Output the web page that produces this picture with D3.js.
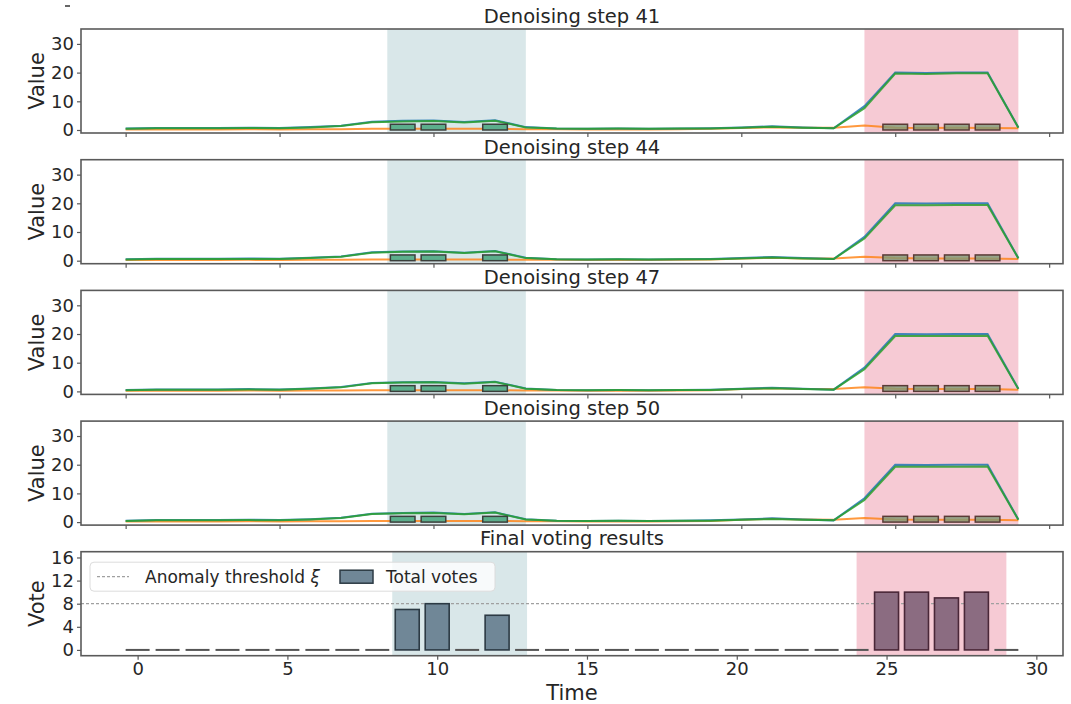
<!DOCTYPE html>
<html>
<head>
<meta charset="utf-8">
<script src="https://cdn.jsdelivr.net/npm/d3@7"></script>
<style>
  html, body { margin: 0; padding: 0; background: #ffffff; }
  svg { display: block; font-family: "DejaVu Sans", sans-serif; }
</style>
</head>
<body>
<svg id="chart" width="1071" height="704"></svg>
<script>
// ---- data ---------------------------------------------------------------
const steps = [41, 44, 47, 50];
const timeIdx = d3.range(0, 30);

// observed series (shared by every denoising step)
const observed = [0.5, 0.7, 0.7, 0.7, 0.8, 0.7, 1.0, 1.5, 2.9, 3.2, 3.3, 2.8, 3.4, 1.0, 0.5,
                  0.4, 0.5, 0.4, 0.5, 0.6, 0.9, 1.3, 0.9, 0.6, 8.3, 20.0, 19.9, 20.0, 20.0, 0.9];

// reconstruction at each denoising step
const recon41 = [0.4, 0.6, 0.6, 0.6, 0.7, 0.6, 0.9, 1.4, 2.7, 3.0, 3.1, 2.6, 3.2, 0.9, 0.5,
                 0.4, 0.5, 0.4, 0.5, 0.5, 0.8, 1.1, 0.8, 0.6, 7.6, 19.7, 19.5, 19.8, 19.8, 0.8];
const recon44 = [0.4, 0.6, 0.6, 0.6, 0.6, 0.6, 0.9, 1.4, 2.8, 3.1, 3.2, 2.7, 3.3, 0.9, 0.5,
                 0.4, 0.5, 0.4, 0.5, 0.5, 0.8, 1.1, 0.8, 0.6, 7.7, 19.3, 19.3, 19.4, 19.4, 0.8];
const recon47 = [0.4, 0.6, 0.6, 0.6, 0.7, 0.6, 0.9, 1.4, 2.8, 3.1, 3.2, 2.7, 3.3, 0.9, 0.5,
                 0.4, 0.5, 0.4, 0.5, 0.5, 0.8, 1.1, 0.8, 0.6, 7.7, 19.3, 19.3, 19.3, 19.4, 0.8];
const recon50 = [0.4, 0.6, 0.6, 0.6, 0.7, 0.6, 0.9, 1.4, 2.8, 3.1, 3.2, 2.7, 3.3, 0.9, 0.5,
                 0.4, 0.5, 0.4, 0.5, 0.5, 0.8, 1.1, 0.8, 0.6, 7.7, 19.3, 19.3, 19.3, 19.4, 0.8];

// reconstruction error at each step
const error41 = [0.2, 0.2, 0.2, 0.2, 0.3, 0.2, 0.3, 0.3, 0.4, 0.4, 0.4, 0.4, 0.4, 0.3, 0.3,
                 0.2, 0.2, 0.2, 0.3, 0.4, 0.7, 0.9, 0.8, 0.8, 1.6, 0.8, 0.7, 0.8, 0.7, 0.6];
const error44 = [0.2, 0.2, 0.2, 0.2, 0.3, 0.2, 0.3, 0.3, 0.4, 0.4, 0.4, 0.4, 0.4, 0.3, 0.3,
                 0.2, 0.2, 0.2, 0.3, 0.4, 0.8, 1.0, 0.8, 0.8, 1.4, 0.9, 0.8, 0.8, 0.8, 0.6];
const error47 = [0.2, 0.2, 0.2, 0.2, 0.3, 0.2, 0.3, 0.3, 0.4, 0.4, 0.4, 0.4, 0.4, 0.3, 0.3,
                 0.2, 0.2, 0.2, 0.3, 0.4, 0.8, 1.1, 0.8, 0.8, 1.4, 0.9, 0.8, 0.8, 0.8, 0.6];
const error50 = [0.2, 0.2, 0.2, 0.2, 0.3, 0.2, 0.3, 0.3, 0.4, 0.4, 0.4, 0.4, 0.4, 0.3, 0.3,
                 0.2, 0.2, 0.2, 0.3, 0.4, 0.8, 1.2, 0.9, 0.8, 1.4, 0.9, 0.8, 0.8, 0.8, 0.6];

const reconByStep = [recon41, recon44, recon47, recon50];
const errorByStep = [error41, error44, error47, error50];

// time points flagged at each step, and the height of the flag bars
const flaggedTimes = [9, 10, 12, 25, 26, 27, 28];
const flagHeight = 2;

// labelled anomaly windows
const windowStart = [8.5, 24];
const windowEnd = [13, 29];
const windowKind = ["subtle", "spike"];

// final votes per time point
const totalVotes = [0, 0, 0, 0, 0, 0, 0, 0, 0, 7, 8, 0, 6, 0, 0,
                    0, 0, 0, 0, 0, 0, 0, 0, 0, 0, 10, 10, 9, 10, 0];
const voteThreshold = 8;

const xTicks = [0, 5, 10, 15, 20, 25, 30];
const valueTicks = [0, 10, 20, 30];
const voteTicks = [0, 4, 8, 12, 16];

// ---- layout --------------------------------------------------------------
const svg = d3.select("#chart");
const left = 81, right = 1063;
const panelTops = [29, 159.7, 290.4, 421.1];
const panelH = 104;
const voteTop = 551.7, voteH = 104;

const shadeFill = { subtle: "#d9e7e9", spike: "#f6cad4" };
const flagFill = { subtle: "#5cae8c", spike: "#7f9a78" };
const flagOpacity = { subtle: 1, spike: 0.8 };
const flagEdge = { subtle: "#3b3f3c", spike: "#5b3b36" };
const voteFill = { subtle: "#708797", spike: "#8b6c81", none: "#708797" };
const voteEdge = { subtle: "#2c3a44", spike: "#4a2738", none: "#4d4d4d" };

const spineColor = "#5a5a5a";
const textColor = "#262626";

function kindAt(t) {
  for (let i = 0; i < windowStart.length; i++) {
    if (t >= windowStart[i] && t <= windowEnd[i]) return windowKind[i];
  }
  return "none";
}

const xTop = d3.scaleLinear().domain([-1.45, 30.45]).range([left, right]);
const xVote = d3.scaleLinear().domain([-1.89, 30.89]).range([left, right]);

function drawFrame(g, h) {
  g.append("rect")
    .attr("x", left).attr("y", 0)
    .attr("width", right - left).attr("height", h)
    .attr("fill", "none")
    .attr("stroke", spineColor)
    .attr("stroke-width", 1.6);
}

function styleAxis(sel) {
  sel.select(".domain").remove();
  sel.selectAll(".tick line").attr("stroke", spineColor).attr("stroke-width", 1.2);
  sel.selectAll(".tick text")
    .attr("fill", textColor)
    .style("font-size", "18px")
    .style("font-family", "DejaVu Sans, sans-serif");
}

// ---- denoising step panels ----------------------------------------------
steps.forEach((step, i) => {
  const g = svg.append("g").attr("transform", `translate(0,${panelTops[i]})`);
  const y = d3.scaleLinear().domain([-1.05, 35.2]).range([panelH, 0]);

  // anomaly windows
  g.selectAll("rect.window")
    .data(windowStart.map((s, k) => ({ s, e: windowEnd[k], kind: windowKind[k] })))
    .join("rect")
    .attr("class", "window")
    .attr("x", d => xTop(d.s))
    .attr("width", d => xTop(d.e) - xTop(d.s))
    .attr("y", 0).attr("height", panelH)
    .attr("fill", d => shadeFill[d.kind]);

  const line = d3.line().x((d, k) => xTop(timeIdx[k])).y(d => y(d));

  g.append("path").datum(errorByStep[i])
    .attr("d", line).attr("fill", "none")
    .attr("stroke", "#ff7f0e").attr("stroke-width", 2).attr("stroke-opacity", 0.8);
  g.append("path").datum(observed)
    .attr("d", line).attr("fill", "none")
    .attr("stroke", "#1f77b4").attr("stroke-width", 2).attr("stroke-opacity", 0.85);
  g.append("path").datum(reconByStep[i])
    .attr("d", line).attr("fill", "none")
    .attr("stroke", "#2ca02c").attr("stroke-width", 2).attr("stroke-opacity", 0.85);

  // flag bars
  const bw = xTop(0.8) - xTop(0);
  g.selectAll("rect.flag")
    .data(flaggedTimes)
    .join("rect")
    .attr("class", "flag")
    .attr("x", d => xTop(d) - bw / 2)
    .attr("width", bw)
    .attr("y", y(flagHeight))
    .attr("height", y(0) - y(flagHeight))
    .attr("fill", d => flagFill[kindAt(d)])
    .attr("fill-opacity", d => flagOpacity[kindAt(d)])
    .attr("stroke", d => flagEdge[kindAt(d)])
    .attr("stroke-width", 1.5);

  drawFrame(g, panelH);

  const ax = g.append("g").attr("transform", `translate(0,${panelH})`)
    .call(d3.axisBottom(xTop).tickValues(xTicks).tickSize(4).tickFormat(""));
  styleAxis(ax);

  const ay = g.append("g").attr("transform", `translate(${left},0)`)
    .call(d3.axisLeft(y).tickValues(valueTicks).tickSize(4).tickPadding(3));
  styleAxis(ay);

  g.append("text")
    .attr("x", (left + right) / 2).attr("y", -6)
    .attr("text-anchor", "middle")
    .attr("fill", textColor)
    .style("font-size", "19.5px")
    .text(`Denoising step ${step}`);

  g.append("text")
    .attr("transform", `translate(37,${panelH / 2}) rotate(-90)`)
    .attr("text-anchor", "middle")
    .attr("dominant-baseline", "central")
    .attr("fill", textColor)
    .style("font-size", "21px")
    .text("Value");
});

// ---- final voting panel --------------------------------------------------
{
  const g = svg.append("g").attr("transform", `translate(0,${voteTop})`);
  const y = d3.scaleLinear().domain([-1, 17]).range([voteH, 0]);

  g.selectAll("rect.window")
    .data(windowStart.map((s, k) => ({ s, e: windowEnd[k], kind: windowKind[k] })))
    .join("rect")
    .attr("class", "window")
    .attr("x", d => xVote(d.s))
    .attr("width", d => xVote(d.e) - xVote(d.s))
    .attr("y", 0).attr("height", voteH)
    .attr("fill", d => shadeFill[d.kind]);

  g.append("line")
    .attr("x1", left).attr("x2", right)
    .attr("y1", y(voteThreshold)).attr("y2", y(voteThreshold))
    .attr("stroke", "#a0a0a0").attr("stroke-width", 1.3)
    .attr("stroke-dasharray", "3,2");

  const bw = xVote(0.8) - xVote(0);
  const votes = totalVotes.map((v, t) => ({ t, v }));

  // time points with no votes are drawn as flat outlines at zero
  g.selectAll("line.novote")
    .data(votes.filter(d => d.v === 0))
    .join("line")
    .attr("class", "novote")
    .attr("x1", d => xVote(d.t) - bw / 2)
    .attr("x2", d => xVote(d.t) + bw / 2)
    .attr("y1", y(0)).attr("y2", y(0))
    .attr("stroke", "#555555").attr("stroke-width", 2);

  g.selectAll("rect.vote")
    .data(votes.filter(d => d.v > 0))
    .join("rect")
    .attr("class", "vote")
    .attr("x", d => xVote(d.t) - bw / 2)
    .attr("width", bw)
    .attr("y", d => y(d.v))
    .attr("height", d => y(0) - y(d.v))
    .attr("fill", d => voteFill[kindAt(d.t)])
    .attr("stroke", d => voteEdge[kindAt(d.t)])
    .attr("stroke-width", 1.6);

  drawFrame(g, voteH);

  const ax = g.append("g").attr("transform", `translate(0,${voteH})`)
    .call(d3.axisBottom(xVote).tickValues(xTicks).tickSize(4).tickPadding(3));
  styleAxis(ax);

  const ay = g.append("g").attr("transform", `translate(${left},0)`)
    .call(d3.axisLeft(y).tickValues(voteTicks).tickSize(4).tickPadding(3));
  styleAxis(ay);

  g.append("text")
    .attr("x", (left + right) / 2).attr("y", -7)
    .attr("text-anchor", "middle")
    .attr("fill", textColor)
    .style("font-size", "19.5px")
    .text("Final voting results");

  g.append("text")
    .attr("transform", `translate(37,${voteH / 2}) rotate(-90)`)
    .attr("text-anchor", "middle")
    .attr("dominant-baseline", "central")
    .attr("fill", textColor)
    .style("font-size", "21px")
    .text("Vote");

  g.append("text")
    .attr("x", (left + right) / 2).attr("y", 148)
    .attr("text-anchor", "middle")
    .attr("fill", textColor)
    .style("font-size", "21px")
    .text("Time");

  // legend
  const lg = g.append("g").attr("transform", "translate(90,10.5)");
  lg.append("rect")
    .attr("width", 405).attr("height", 29).attr("rx", 4)
    .attr("fill", "#ffffff").attr("fill-opacity", 0.8)
    .attr("stroke", "#dcdcdc").attr("stroke-width", 1);
  lg.append("line")
    .attr("x1", 7).attr("x2", 39).attr("y1", 14.5).attr("y2", 14.5)
    .attr("stroke", "#a0a0a0").attr("stroke-width", 1.3)
    .attr("stroke-dasharray", "3,2");
  const t1 = lg.append("text")
    .attr("x", 55).attr("y", 14.5)
    .attr("dominant-baseline", "central")
    .attr("fill", textColor)
    .style("font-size", "17px");
  t1.append("tspan").text("Anomaly threshold ");
  t1.append("tspan").style("font-style", "italic").text("ξ");
  lg.append("rect")
    .attr("x", 250).attr("y", 8).attr("width", 33).attr("height", 13)
    .attr("fill", voteFill.subtle).attr("stroke", voteEdge.subtle).attr("stroke-width", 1.5);
  lg.append("text")
    .attr("x", 296).attr("y", 14.5)
    .attr("dominant-baseline", "central")
    .attr("fill", textColor)
    .style("font-size", "17px")
    .text("Total votes");
}

// clipped tick mark left over at the very top edge
svg.append("line")
  .attr("x1", 65).attr("x2", 70).attr("y1", 6).attr("y2", 6)
  .attr("stroke", "#333").attr("stroke-width", 1.5);
</script>
</body>
</html>
